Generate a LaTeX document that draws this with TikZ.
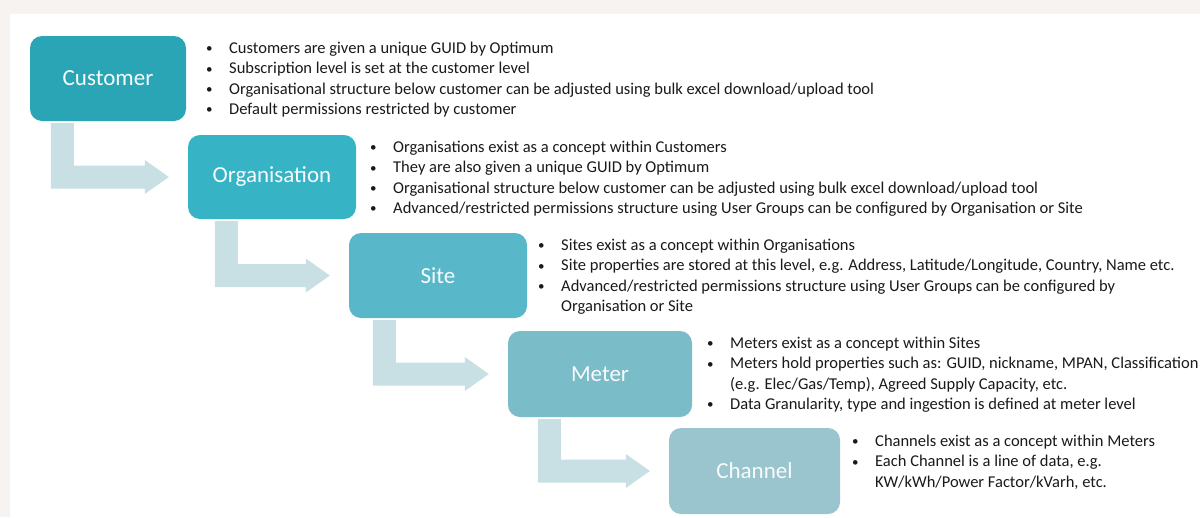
\documentclass[tikz,border=0pt]{standalone}
\usepackage{fontspec}
\setmainfont{Carlito}
\usepackage{tikz}
\usetikzlibrary{calc}

\definecolor{pagebg}{HTML}{F7F3F0}
\definecolor{custcol}{HTML}{2AA5B5}
\definecolor{orgcol}{HTML}{36B4C6}
\definecolor{sitecol}{HTML}{58B8C9}
\definecolor{metercol}{HTML}{7ABDC8}
\definecolor{chancol}{HTML}{9AC5CE}
\definecolor{arrowcol}{HTML}{C8DFE3}
\definecolor{notecol}{HTML}{1A1A1A}

% one bullet line, and a wrapped line under it
\newcommand{\bitem}[1]{\makebox[23pt][l]{\raisebox{0.8pt}{\fontsize{13}{13}\selectfont\textbullet}}#1}
\newcommand{\bcont}[1]{\hspace*{23pt}#1}

% bent arrow from the bottom of one level to the next one
\newcommand{\hierarrow}[3]{%
\fill[arrowcol] let \p1=(#1.south west), \p2=(#2.west) in
  (\x1+#3pt,\y1-2pt) -- (\x1+#3pt+23pt,\y1-2pt) -- (\x1+#3pt+23pt,\y2+11.5pt)
  -- (\x2-43pt,\y2+11.5pt) -- (\x2-43pt,\y2+17pt) -- (\x2-19pt,\y2)
  -- (\x2-43pt,\y2-17pt) -- (\x2-43pt,\y2-11.5pt) -- (\x1+#3pt,\y2-11.5pt) -- cycle;}

\begin{document}
\begin{tikzpicture}[x=1pt,y=-1pt,
  level/.style={rounded corners=12pt,inner sep=0pt,text=white!96!custcol,
    font=\fontsize{23}{27}\selectfont},
  notes/.style={anchor=north west,align=left,inner sep=0pt,text=notecol,
    font=\fontsize{16.5}{20.3}\selectfont}]
\useasboundingbox (0,0) rectangle (1200,517);
%page
\fill[pagebg] (0,0) rectangle (1200,517);
\fill[white] (10,14) rectangle (1200,517);
%levels
\node[level,fill=custcol,minimum width=156pt,minimum height=85pt] (cust) at (108,78.5) {Customer};
\node[level,fill=orgcol,minimum width=168pt,minimum height=84pt] (org) at (272,177) {Organisation};
\node[level,fill=sitecol,minimum width=178pt,minimum height=85pt] (site) at (438,275.5) {Site};
\node[level,fill=metercol,minimum width=184pt,minimum height=86pt] (meter) at (600,374) {Meter};
\node[level,fill=chancol,minimum width=171pt,minimum height=86pt] (chan) at (754.5,471) {Channel};
%arrows
\hierarrow{cust}{org}{21}
\hierarrow{org}{site}{27}
\hierarrow{site}{meter}{24}
\hierarrow{meter}{chan}{30}
%notes
\node[notes] (custtxt) at (206,42) {\bitem{Customers are given a unique GUID by Optimum}\\
  \bitem{Subscription level is set at the customer level}\\
  \bitem{Organisational structure below customer can be adjusted using bulk excel download/upload tool}\\
  \bitem{Default permissions restricted by customer}};
\node[notes] (orgtxt) at (370,141) {\bitem{Organisations exist as a concept within Customers}\\
  \bitem{They are also given a unique GUID by Optimum}\\
  \bitem{Organisational structure below customer can be adjusted using bulk excel download/upload tool}\\
  \bitem{Advanced/restricted permissions structure using User Groups can be configured by Organisation or Site}};
\node[notes] (sitetxt) at (538,239) {\bitem{Sites exist as a concept within Organisations}\\
  \bitem{Site properties are stored at this level, e.g. Address, Latitude/Longitude, Country, Name etc.}\\
  \bitem{Advanced/restricted permissions structure using User Groups can be configured by}\\
  \bcont{Organisation or Site}};
\node[notes] (metertxt) at (707,337) {\bitem{Meters exist as a concept within Sites}\\
  \bitem{Meters hold properties such as: GUID, nickname, MPAN, Classification}\\
  \bcont{(e.g. Elec/Gas/Temp), Agreed Supply Capacity, etc.}\\
  \bitem{Data Granularity, type and ingestion is defined at meter level}};
\node[notes] (chantxt) at (852,435) {\bitem{Channels exist as a concept within Meters}\\
  \bitem{Each Channel is a line of data, e.g.}\\
  \bcont{KW/kWh/Power Factor/kVarh, etc.}};
\end{tikzpicture}
\end{document}
